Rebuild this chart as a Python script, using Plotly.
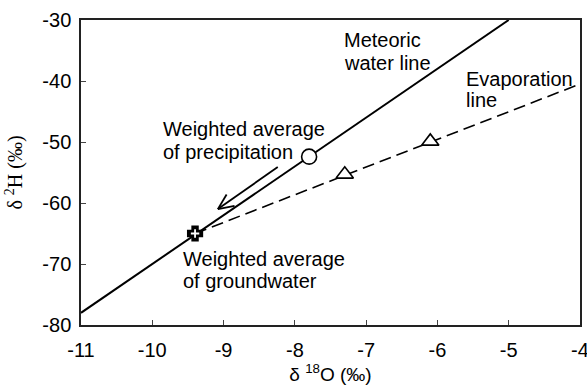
import math
import plotly.graph_objects as go

# Data
mwl_x = [-11, -5]
mwl_y = [-78, -30]
evap_x = [-9.4, -4]
evap_y = [-65, -40.5]
precip_x = [-7.8]
precip_y = [-52.4]
tri_x = [-7.3, -6.1]
tri_y = [-55.3, -49.9]
gw_x = [-9.4]
gw_y = [-65.0]
arrow_tail = (-8.24, -54.1)
arrow_head = (-9.08, -61.0)
x_ticks = [-11, -10, -9, -8, -7, -6, -5, -4]
y_ticks = [-80, -70, -60, -50, -40, -30]

W, H = 587, 386
ML, MR, MT, MB = 81, 7, 20, 61
XR = (-11, -4)
YR = (-80, -30)
pw = W - ML - MR
ph = H - MT - MB

fig = go.Figure()
fig.add_trace(go.Scatter(x=mwl_x, y=mwl_y, mode="lines",
                         line=dict(color="black", width=2), showlegend=False))
fig.add_trace(go.Scatter(x=evap_x, y=evap_y, mode="lines",
                         line=dict(color="black", width=1.6, dash="12px,6px"), showlegend=False))
fig.add_trace(go.Scatter(x=precip_x, y=precip_y, mode="markers",
                         marker=dict(symbol="circle", size=15, color="white",
                                     line=dict(color="black", width=1.6)), showlegend=False))
fig.add_trace(go.Scatter(x=tri_x, y=tri_y, mode="markers",
                         marker=dict(symbol="triangle-up", size=15, color="white",
                                     line=dict(color="black", width=1.6)), showlegend=False))
fig.add_trace(go.Scatter(x=gw_x, y=gw_y, mode="markers",
                         marker=dict(symbol="cross", size=11, color="black",
                                     line=dict(color="black", width=3)), showlegend=False))
fig.add_trace(go.Scatter(x=gw_x, y=gw_y, mode="markers",
                         marker=dict(symbol="cross-thin", size=6, color="white",
                                     line=dict(color="white", width=1.8)), showlegend=False))

# Arrow shaft
fig.add_shape(type="line", xref="x", yref="y",
              x0=arrow_tail[0], y0=arrow_tail[1], x1=arrow_head[0], y1=arrow_head[1],
              line=dict(color="black", width=1.8))
# Open V arrow head (barbs computed from shaft direction in pixel space)
dx = (arrow_tail[0] - arrow_head[0]) * pw / (XR[1] - XR[0])
dy = (arrow_tail[1] - arrow_head[1]) * ph / (YR[1] - YR[0])
ang = math.atan2(dy, dx)
blen = 17
for s in (-1, 1):
    a = ang + s * math.radians(24)
    fig.add_shape(type="line", xref="x", yref="y",
                  xsizemode="pixel", ysizemode="pixel",
                  xanchor=arrow_head[0], yanchor=arrow_head[1],
                  x0=0, y0=0, x1=blen * math.cos(a), y1=blen * math.sin(a),
                  line=dict(color="black", width=1.8))

font = dict(family="Liberation Sans, Arial", size=20, color="black")
labels = [
    ("Meteoric", 343, 40),
    ("water line", 343, 63),
    ("Evaporation", 465, 79),
    ("line", 465, 100),
    ("Weighted average", 162, 129),
    ("of precipitation", 162, 152),
    ("Weighted average", 182, 259),
    ("of groundwater", 182, 281),
]
for txt, px, py in labels:
    fig.add_annotation(x=(px - ML) / pw, y=1 - (py - MT) / ph, xref="paper", yref="paper",
                       text=txt, showarrow=False, xanchor="left", yanchor="middle",
                       align="left", font=font, borderpad=0)

fig.update_layout(
    width=W, height=H,
    margin=dict(l=ML, r=MR, t=MT, b=MB, autoexpand=False),
    plot_bgcolor="white", paper_bgcolor="white",
    font=font,
    xaxis=dict(range=list(XR), tickvals=x_ticks, ticktext=[str(v) for v in x_ticks],
               ticks="inside", ticklen=5, ticklabelstandoff=6, ticklabeloverflow="allow",
               automargin=False,
               showline=True, linecolor="#222", linewidth=1.5, mirror=True,
               showgrid=False, zeroline=False, tickfont=font,
               title=dict(text="δ <sup>18</sup>O (‰)", standoff=2,
                          font=dict(family="Liberation Sans, Arial", size=19))),
    yaxis=dict(range=list(YR), tickvals=y_ticks, ticktext=[str(v) for v in y_ticks],
               ticks="inside", ticklen=5, ticklabelstandoff=4, ticklabeloverflow="allow",
               automargin=False,
               showline=True, linecolor="#222", linewidth=1.5, mirror=True,
               showgrid=False, zeroline=False, tickfont=font,
               title=dict(text="δ <sup>2</sup>H (‰)", standoff=14,
                          font=dict(family="Liberation Serif, Times New Roman", size=20))),
)

fig.write_html("out.html")
